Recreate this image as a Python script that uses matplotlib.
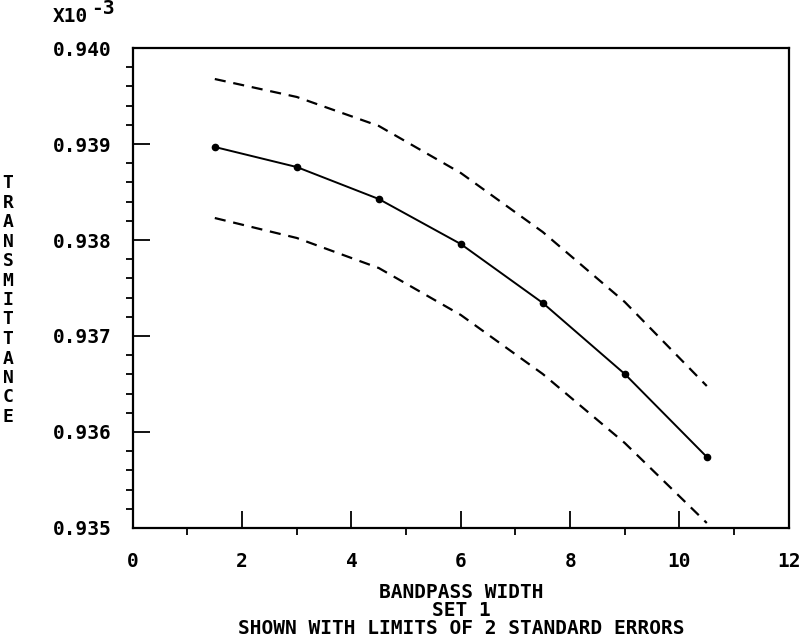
import matplotlib
matplotlib.use("Agg")
import matplotlib.pyplot as plt
from matplotlib.ticker import MultipleLocator, FormatStrFormatter

bandpass = [1.5, 3.0, 4.5, 6.0, 7.5, 9.0, 10.5]
transmittance = [0.938969, 0.938760, 0.938427, 0.937958, 0.937344, 0.936604, 0.935740]
upper_limit = [0.939677, 0.939490, 0.939188, 0.938698, 0.938083, 0.937354, 0.936479]
lower_limit = [0.938229, 0.938021, 0.937708, 0.937219, 0.936604, 0.935885, 0.935052]
x_ticks = [0, 2, 4, 6, 8, 10, 12]
y_ticks = [0.935, 0.936, 0.937, 0.938, 0.939, 0.940]

FONT = "DejaVu Sans Mono"
FS = 14

fig = plt.figure(figsize=(8.0, 6.41), dpi=100)
ax = fig.add_axes([0.166, 0.1763, 0.820, 0.7488])

ax.plot(bandpass, transmittance, color="black", lw=1.4, marker="o", ms=4.5)
ax.plot(bandpass, upper_limit, color="black", lw=1.6, ls=(0, (5, 3.5)))
ax.plot(bandpass, lower_limit, color="black", lw=1.6, ls=(0, (5, 3.5)))

ax.set_xlim(0, 12)
ax.set_ylim(0.935, 0.940)
ax.set_xticks(x_ticks)
ax.set_yticks(y_ticks)
ax.xaxis.set_minor_locator(MultipleLocator(1))
ax.yaxis.set_minor_locator(MultipleLocator(0.0002))
ax.yaxis.set_major_formatter(FormatStrFormatter("%.3f"))

ax.tick_params(which="major", direction="in", length=12, width=1.3,
               top=False, right=False)
ax.tick_params(which="minor", direction="out", length=5, width=1.3,
               top=False, right=False)
ax.tick_params(axis="x", which="major", pad=17)
ax.tick_params(axis="y", which="major", pad=15)
for lab in ax.get_xticklabels() + ax.get_yticklabels():
    lab.set_fontfamily(FONT)
    lab.set_fontsize(FS)
    lab.set_fontweight("bold")

for sp in ax.spines.values():
    sp.set_linewidth(1.6)

# multiplier label
fig.text(53 / 800, 1 - 22 / 641, "X10", family=FONT, fontsize=FS,
         fontweight="bold", ha="left", va="baseline")
fig.text(91 / 800, 1 - 14 / 641, "-3", family=FONT, fontsize=FS,
         fontweight="bold", ha="left", va="baseline")

# stacked y label
ylabel = "TRANSMITTANCE"
for i, ch in enumerate(ylabel):
    fig.text(8 / 800, 1 - (183 + i * 19.5) / 641, ch, family=FONT,
             fontsize=FS - 1, fontweight="bold", ha="center", va="center")

# x label lines
cx = (133 + 789) / 2 / 800
fig.text(cx, 1 - 592 / 641, "BANDPASS WIDTH", family=FONT, fontsize=FS,
         fontweight="bold", ha="center", va="center")
fig.text(cx, 1 - 611 / 641, "SET 1", family=FONT, fontsize=FS,
         fontweight="bold", ha="center", va="center")
fig.text(cx, 1 - 629 / 641, "SHOWN WITH LIMITS OF 2 STANDARD ERRORS",
         family=FONT, fontsize=FS, fontweight="bold", ha="center", va="center")

fig.savefig("out.png", dpi=100, facecolor="white")
